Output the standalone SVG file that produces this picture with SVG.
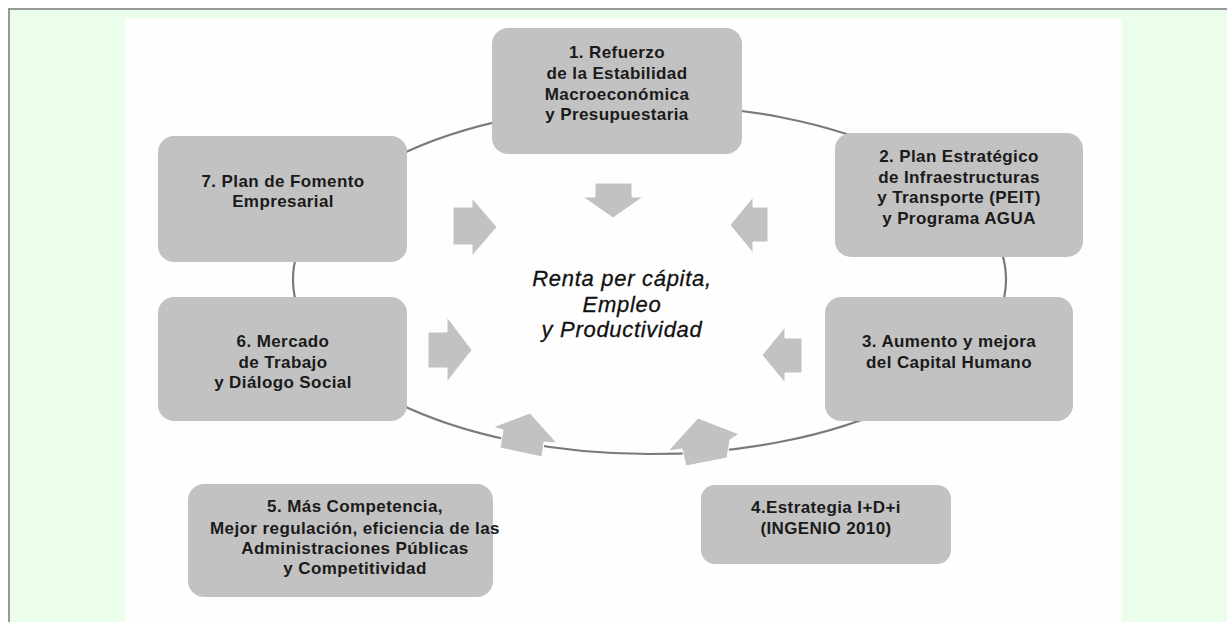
<svg xmlns="http://www.w3.org/2000/svg" width="1227" height="622" viewBox="0 0 1227 622">
<style>
.box{fill:#c2c2c2;}
.lbl{font-family:"Liberation Sans",Arial,sans-serif;font-weight:bold;font-size:17px;letter-spacing:0.4px;fill:#1a1a1a;text-anchor:middle;}
.ctr{font-family:"Liberation Sans",Arial,sans-serif;font-style:italic;font-size:22px;letter-spacing:0.7px;fill:#111;stroke:#111;stroke-width:0.3;text-anchor:middle;}
.arr{fill:#c2c2c2;stroke:#ffffff;stroke-width:1;}
.ring{fill:none;stroke:#7a7a7a;stroke-width:2.2;}
</style>
<rect x="0" y="0" width="1227" height="622" fill="#ffffff"/>
<rect x="9" y="9" width="1218" height="613" fill="#ebfdeb"/>
<path d="M9 622 V9 H1227" fill="none" stroke="#999999" stroke-width="2"/>
<rect x="125" y="18" width="997" height="604" fill="#fefefe"/>

<g id="connectors">
  <ellipse class="ring" cx="649.5" cy="279.5" rx="356.5" ry="174.5"/>
  <polygon class="arr" points="595,183 632,183 632,197 643,197 613,218 583,197 595,197"/>
  <polygon class="arr" points="453,207 472,207 472,198 497,227 472,256 472,245 453,245"/>
  <polygon class="arr" points="768,207 753,207 753,197 730,225 753,253 753,242 768,242"/>
  <polygon class="arr" points="428,332 447,332 447,317 472,350 447,382 447,368 428,368"/>
  <polygon class="arr" points="802,338 785,338 785,327 762,355 785,383 785,373 802,373"/>
  <polygon class="arr" points="530,413 557,443 544,442 542,457 500,448 503,430 493,427"/>
  <polygon class="arr" points="698,418 739,434 730,440 727,458 686,466 682,449 668,451"/>
</g>

<g id="node1">
  <rect class="box" x="492" y="28" width="250" height="126" rx="16"/>
  <text class="lbl" x="617" y="58">1. Refuerzo</text>
  <text class="lbl" x="617" y="79">de la Estabilidad</text>
  <text class="lbl" x="617" y="99.5">Macroeconómica</text>
  <text class="lbl" x="617" y="120">y Presupuestaria</text>
</g>
<g id="node2">
  <rect class="box" x="835" y="133" width="248" height="124" rx="16"/>
  <text class="lbl" x="959" y="162">2. Plan Estratégico</text>
  <text class="lbl" x="959" y="182.5">de Infraestructuras</text>
  <text class="lbl" x="959" y="203">y Transporte (PEIT)</text>
  <text class="lbl" x="959" y="223.5">y Programa AGUA</text>
</g>
<g id="node3">
  <rect class="box" x="825" y="297" width="248" height="124" rx="16"/>
  <text class="lbl" x="949" y="347">3. Aumento y mejora</text>
  <text class="lbl" x="949" y="368">del Capital Humano</text>
</g>
<g id="node4">
  <rect class="box" x="701" y="485" width="250" height="79" rx="14"/>
  <text class="lbl" x="826" y="513">4.Estrategia I+D+i</text>
  <text class="lbl" x="826" y="534">(INGENIO 2010)</text>
</g>
<g id="node5">
  <rect class="box" x="188" y="484" width="305" height="113" rx="16"/>
  <text class="lbl" x="355" y="512">5. Más Competencia,</text>
  <text class="lbl" x="355" y="534">Mejor regulación, eficiencia de las</text>
  <text class="lbl" x="355" y="554">Administraciones Públicas</text>
  <text class="lbl" x="355" y="574">y Competitividad</text>
</g>
<g id="node6">
  <rect class="box" x="158" y="297" width="249" height="124" rx="16"/>
  <text class="lbl" x="283" y="347">6. Mercado</text>
  <text class="lbl" x="283" y="368">de Trabajo</text>
  <text class="lbl" x="283" y="388">y Diálogo Social</text>
</g>
<g id="node7">
  <rect class="box" x="158" y="136" width="249" height="126" rx="16"/>
  <text class="lbl" x="283" y="187">7. Plan de Fomento</text>
  <text class="lbl" x="283" y="207">Empresarial</text>
</g>
<g id="center">
  <text class="ctr" x="622" y="286">Renta per cápita,</text>
  <text class="ctr" x="622" y="312">Empleo</text>
  <text class="ctr" x="622" y="337">y Productividad</text>
</g>
</svg>
